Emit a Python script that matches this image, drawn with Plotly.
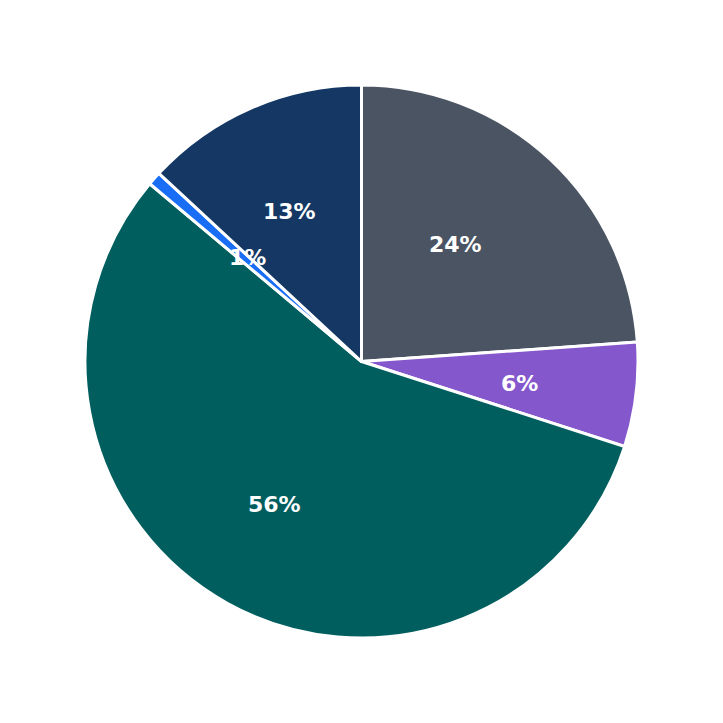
import math
import plotly.graph_objects as go

labels = ["A", "B", "C", "D", "E"]
values = [23.9, 6.1, 56.2, 0.8, 13.1]
colors = ["#4a5462", "#8557cc", "#015e5e", "#1a6ef5", "#143863"]
pct_labels = ["24%", "6%", "56%", "1%", "13%"]

fig = go.Figure(go.Pie(
    labels=labels, values=values, sort=False, direction="clockwise", rotation=0,
    marker=dict(colors=colors, line=dict(color="white", width=3)),
    textinfo="none", showlegend=False, hoverinfo="skip",
))

total = sum(values)
cum = 0
anns = []
for v, t in zip(values, pct_labels):
    mid = (cum + v / 2) / total * 2 * math.pi
    cum += v
    anns.append(dict(x=0.5 + 0.325 * math.sin(mid), y=0.5 + 0.325 * math.cos(mid),
                     xref="paper", yref="paper", text=f"<b>{t}</b>", showarrow=False,
                     font=dict(color="white", size=22, family="DejaVu Sans")))

fig.update_layout(width=723, height=723, margin=dict(l=77, r=93, t=77, b=93),
                  paper_bgcolor="white", annotations=anns)
fig.write_html("out.html")
